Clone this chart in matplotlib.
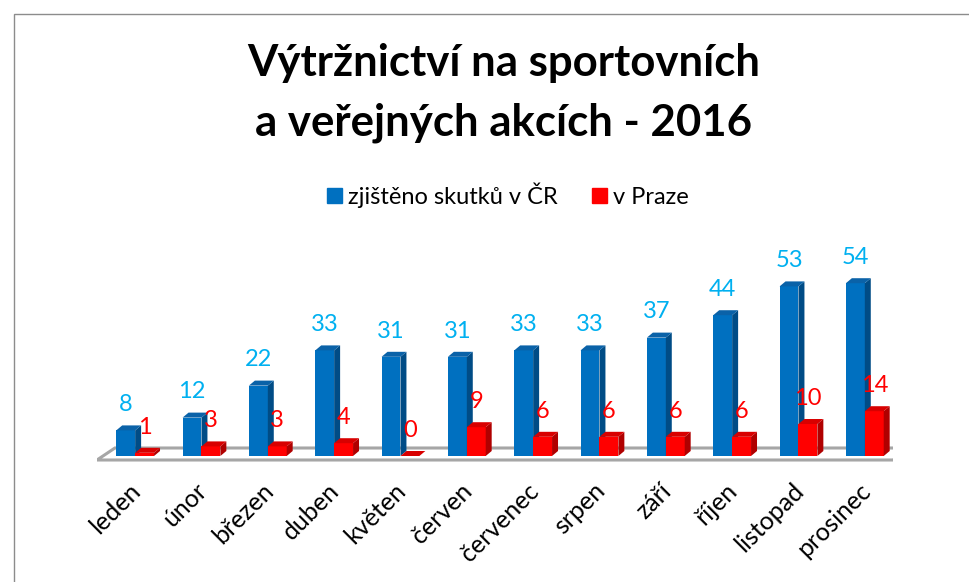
import matplotlib.pyplot as plt
from matplotlib.patches import Rectangle, Polygon

months = ['leden', 'únor', 'březen', 'duben', 'květen', 'červen',
          'červenec', 'srpen', 'září', 'říjen', 'listopad', 'prosinec']
cr = [8, 12, 22, 33, 31, 31, 33, 33, 37, 44, 53, 54]
praha = [1, 3, 3, 4, 0, 9, 6, 6, 6, 6, 10, 14]

title = 'Výtržnictví na sportovních\na veřejných akcích - 2016'
series_names = ['zjištěno skutků v ČR', 'v Praze']

plt.rcParams['font.family'] = ['Lato', 'DejaVu Sans']

W, H = 969, 582
fig = plt.figure(figsize=(W / 100, H / 100), dpi=100)

# axes placed so that x=-0.5..11.5 is the floor front, 3.2 px per unit
ax = fig.add_axes([97 / W, 1 - 470 / H, 796 / W, 270 / H])
ax.set_xlim(-0.5, 11.5)
ax.set_ylim(-14 / 3.2, 256 / 3.2)
ax.axis('off')

dx, dy = 0.09, 1.56   # fake depth of the 3d bars
bw = 0.285
blue = ('#0070C0', '#004C86', '#0A62A8')
red = ('#FF0000', '#B00000', '#D80000')

# floor
floor = Polygon([(-0.5, -1.25), (11.5, -1.25), (11.76, 2.5), (-0.23, 2.5)],
                closed=True, facecolor='white', edgecolor='#A6A6A6', lw=2.2)
ax.add_patch(floor)


def bar3d(x0, v, cols):
    front, side, top = cols
    ax.bar(x0, v, width=bw, align='edge', color=front, edgecolor='none', zorder=3)
    ax.fill([x0 + bw, x0 + bw + dx, x0 + bw + dx, x0 + bw],
            [0, dy, v + dy, v], color=side, lw=0, zorder=3)
    ax.fill([x0, x0 + dx, x0 + bw + dx, x0 + bw],
            [v, v + dy, v + dy, v], color=top, lw=0, zorder=3)


for i, (a, b) in enumerate(zip(cr, praha)):
    xb = i - 0.21
    xr = xb + bw
    bar3d(xb, a, blue)
    bar3d(xr, b, red)
    ax.text(xb + bw / 2, a + 6, str(a), ha='center', va='baseline',
            color='#00B0F0', fontsize=17, zorder=4)
    ax.text(xr + bw / 2, b + 6, str(b), ha='center', va='baseline',
            color='#FF0000', fontsize=17, zorder=5)
    ax.text(i + 0.1, -9.7, months[i], rotation=45, rotation_mode='anchor',
            ha='right', va='center', fontsize=18, color='black', clip_on=False)

fig.text(504 / W, 1 - 93 / H, title, ha='center', va='center', fontsize=31.5,
         fontweight='bold', linespacing=1.6)

handles = [Rectangle((0, 0), 1, 1, color=blue[0]), Rectangle((0, 0), 1, 1, color=red[0])]
fig.legend(handles, series_names, loc='center', ncol=2,
           bbox_to_anchor=(508 / W, 1 - 195 / H), frameon=False, fontsize=17,
           handlelength=0.64, handleheight=0.64, handletextpad=0.25,
           columnspacing=1.44)

# chart border (only left and top visible)
fig.patches.append(Rectangle((13.5 / W, -0.1), 1.2, 1.1 - 14.5 / H,
                             transform=fig.transFigure, fill=False,
                             edgecolor='#8C8C8C', lw=1))

fig.savefig('out.png', dpi=100)
